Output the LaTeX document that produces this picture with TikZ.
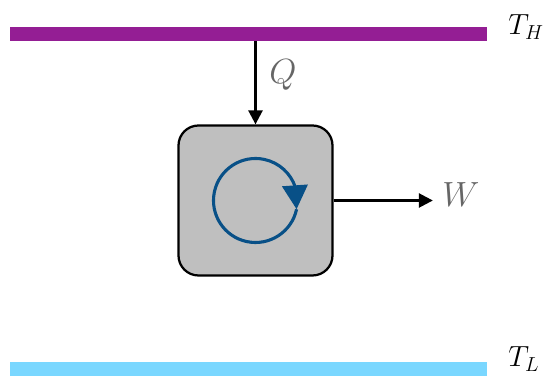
\documentclass[tikz,border=0pt]{standalone}
\usepackage{amsmath}
\usepackage{tikz}
\usetikzlibrary{arrows.meta, bending, positioning}

\definecolor{hotpurple}{RGB}{148,30,148}
\definecolor{coldblue}{RGB}{122,215,255}
\definecolor{cycleblue}{RGB}{8,80,135}
\definecolor{enginegray}{RGB}{191,191,191}

\begin{document}
\begin{tikzpicture}[
		reservoir/.style={minimum width=11.925cm, minimum height=0.35cm, inner sep=0pt},
		engine/.style={draw, line width=1.6pt, rounded corners=0.5cm, fill=enginegray, minimum width=3.85cm, minimum height=3.75cm},
		temp/.style={anchor=base west, inner sep=0pt, font=\huge},
		flow/.style={anchor=base west, inner sep=0pt, font=\Huge, text=black!60},
		arrow/.style={-{Triangle[length=10pt, width=10pt]}, line width=1.8pt},
		cycle/.style={-{Triangle[length=17pt, width=18pt]}, line width=2.2pt, cycleblue}
		]
		\useasboundingbox (0,0) rectangle (13.7,9.475);
		
		% Nodes
		\node[reservoir, fill=hotpurple] (hot) at (6.2125,8.625) {};
		\node[reservoir, fill=coldblue] (cold) at (6.2125,0.25) {};
		\node[temp] (th) at (12.7,8.6) {$T_H$};
		\node[temp] (tl) at (12.7,0.3) {$T_L$};
		
		\node[engine] (heng) at (6.3875,4.4625) {};
		\node[flow] (heat) at (6.725,7.375) {$Q$};
		\node[flow] (work) at (11.05,4.3) {$W$};
		
		% Arrows
		\draw[arrow] (heng.north |- hot.south) -- (heng.north);
		\draw[arrow, shorten >=6.5pt] (heng.east) -- (heng.east -| work.west);
		
		% Cycle
		\draw[cycle] ([shift={(-12:1.05cm)}]heng.center) arc[start angle=-12, end angle=-372, radius=1.05cm];
		
	\end{tikzpicture}
\end{document}
